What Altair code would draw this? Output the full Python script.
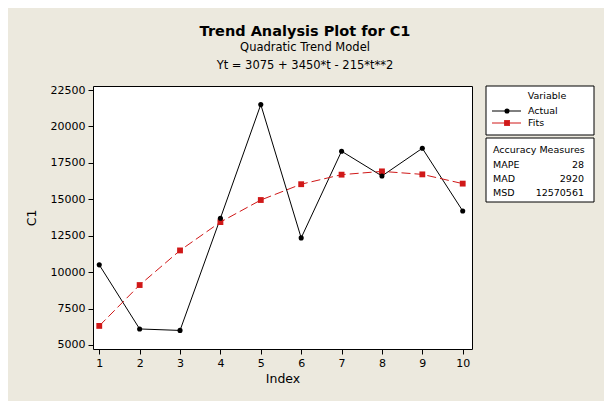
import altair as alt
import pandas as pd

# ---- data ----
index = [1, 2, 3, 4, 5, 6, 7, 8, 9, 10]
actual = [10500, 6100, 6000, 13700, 21500, 12350, 18300, 16600, 18500, 14200]
fits = [6310, 9115, 11490, 13435, 14950, 16035, 16690, 16915, 16710, 16075]
y_ticks = [5000, 7500, 10000, 12500, 15000, 17500, 20000, 22500]
title_lines = ["Trend Analysis Plot for C1", "Quadratic Trend Model",
               "Yt = 3075 + 3450*t - 215*t**2"]
series_names = ["Actual", "Fits"]
measure_names = ["MAPE", "MAD", "MSD"]
measure_values = ["28", "2920", "12570561"]

FONT = "DejaVu Sans"
BG = "#ECE9DE"
RED = "#D01818"

df = pd.DataFrame({"Index": index, "Actual": actual, "Fits": fits})
one = pd.DataFrame({"d": [0]})

W, H = 379, 263

yscale = alt.Scale(domain=[4725, 22775], nice=False, zero=False)
yaxis = alt.Axis(values=y_ticks, title="C1", format="d", labelOverlap=False)
xs = alt.X("Index:Q", scale=alt.Scale(domain=[0.845, 10.23], nice=False, zero=False),
           axis=alt.Axis(values=index, title="Index", format="d", labelOverlap=False))
ys_a = alt.Y("Actual:Q", scale=yscale, axis=yaxis)
ys_f = alt.Y("Fits:Q", scale=yscale, axis=yaxis)

base = alt.Chart(df)
act_line = base.mark_line(color="black", strokeWidth=1).encode(x=xs, y=ys_a)
act_pts = base.mark_circle(color="black", size=26, opacity=1).encode(x=xs, y=ys_a)
fit_line = base.mark_line(color=RED, strokeWidth=1, strokeDash=[9, 4]).encode(x=xs, y=ys_f)
fit_pts = base.mark_square(color=RED, size=34, opacity=1).encode(x=xs, y=ys_f)

layers = [act_line, fit_line, fit_pts, act_pts]

# titles
title_specs = [(title_lines[0], -54, 14.5, "bold"), (title_lines[1], -38, 11.5, "normal"),
               (title_lines[2], -20, 11.5, "normal")]
for txt, yy, fs, fw in title_specs:
    layers.append(alt.Chart(one).mark_text(text=txt, font=FONT, fontSize=fs, fontWeight=fw,
                                           color="black", align="center", baseline="middle")
                  .encode(x=alt.value(212), y=alt.value(yy)))

# legend boxes
for y0, y1 in [(0, 49), (52, 116)]:
    layers.append(alt.Chart(one).mark_rect(fill="white", stroke="black", strokeWidth=1)
                  .encode(x=alt.value(393), x2=alt.value(501), y=alt.value(y0), y2=alt.value(y1)))

LF = 9.5
layers.append(alt.Chart(one).mark_text(text="Variable", font=FONT, fontSize=LF, color="black",
                                       align="center", baseline="middle")
              .encode(x=alt.value(454), y=alt.value(10)))
for i, name in enumerate(series_names):
    yy = 25 + 12 * i
    col = "black" if i == 0 else RED
    layers.append(alt.Chart(one).mark_rule(color=col, strokeWidth=1)
                  .encode(x=alt.value(399), x2=alt.value(428), y=alt.value(yy)))
    if i == 0:
        layers.append(alt.Chart(one).mark_circle(color="black", size=26, opacity=1)
                      .encode(x=alt.value(414), y=alt.value(yy)))
    else:
        layers.append(alt.Chart(one).mark_square(color=RED, size=34, opacity=1)
                      .encode(x=alt.value(414), y=alt.value(yy)))
    layers.append(alt.Chart(one).mark_text(text=name, font=FONT, fontSize=LF, color="black",
                                           align="left", baseline="middle")
                  .encode(x=alt.value(435), y=alt.value(yy)))

layers.append(alt.Chart(one).mark_text(text="Accuracy Measures", font=FONT, fontSize=LF,
                                       color="black", align="left", baseline="middle")
              .encode(x=alt.value(400), y=alt.value(64)))
for i, (n, v) in enumerate(zip(measure_names, measure_values)):
    yy = 78.5 + 14.3 * i
    layers.append(alt.Chart(one).mark_text(text=n, font=FONT, fontSize=LF, color="black",
                                           align="left", baseline="middle")
                  .encode(x=alt.value(400), y=alt.value(yy)))
    layers.append(alt.Chart(one).mark_text(text=v, font=FONT, fontSize=LF, color="black",
                                           align="right", baseline="middle")
                  .encode(x=alt.value(491), y=alt.value(yy)))

chart = alt.layer(*layers).properties(
    width=W, height=H,
    autosize=alt.AutoSizeParams(type="none"),
    padding={"left": 85, "top": 78, "right": 132, "bottom": 52},
    background=BG,
).configure_view(
    fill="white", stroke="black", strokeWidth=1
).configure_axis(
    grid=False, domain=False, tickColor="black", tickSize=5, tickWidth=1,
    labelFont=FONT, labelFontSize=11, labelColor="black", labelPadding=3,
    labelOverlap=False,
    titleFont=FONT, titleFontSize=12.5, titleColor="black", titleFontWeight="normal",
).configure_axisX(
    titlePadding=4, labelAngle=0
).configure_axisY(
    titlePadding=12, titleAngle=-90
)

chart.save("out.html", embed_options={"renderer": "svg", "actions": False})
